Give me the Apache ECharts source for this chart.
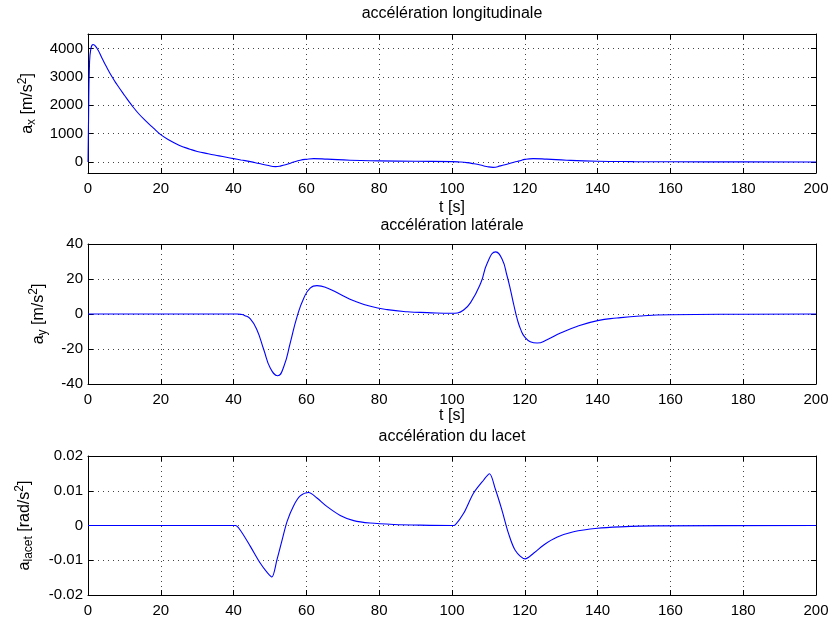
<!DOCTYPE html>
<html>
<head>
<meta charset="utf-8">
<script src="https://cdn.jsdelivr.net/npm/echarts@6/dist/echarts.min.js"></script>
<style>html,body{margin:0;padding:0;background:#fff}#c{width:832px;height:619px}</style>
</head>
<body>
<div id="c"></div>
<script>
// ---- data ----
const xTicks = [0, 20, 40, 60, 80, 100, 120, 140, 160, 180, 200];
const axTickLabels = [0, 1000, 2000, 3000, 4000];

const tAx = [0, 0.15, 0.4, 0.8, 1.4, 2.5, 4, 5, 6.6, 8, 10, 12, 14, 16, 18, 19.6, 22, 25, 28, 30, 33, 36, 38, 40, 42, 44.6, 47, 49.2, 51.5, 53, 54.7, 56.5, 58.3, 60, 62, 65.7, 72, 80, 90, 100, 102, 104.1, 106, 107.8, 109.5, 111.3, 113.3, 115.1, 117, 118.7, 120, 122.3, 126, 131.5, 140, 150, 160, 180, 200];
const axVals = [0, 1500, 3400, 4000, 4140, 4000, 3620, 3370, 3000, 2720, 2350, 2000, 1690, 1430, 1190, 1000, 790, 590, 450, 370, 290, 215, 165, 117, 70, 12, -55, -115, -165, -140, -82, -5, 60, 95, 117, 100, 60, 38, 23, 12, 0, -25, -65, -110, -160, -190, -140, -80, -10, 40, 90, 117, 100, 60, 25, 12, 6, 2, 0];

const tAy = [0, 41, 42, 43, 44.6, 46.4, 48.3, 50.1, 52.1, 53.8, 55.6, 57.4, 59.3, 61.1, 62.9, 65.7, 69.4, 73, 77.6, 82.2, 87.7, 93.2, 100, 101.5, 103, 105.1, 107.9, 109.7, 112, 113.8, 115.1, 116.1, 117, 118, 119, 120, 121.5, 123.4, 126.1, 129.8, 134.3, 140, 145.3, 151.7, 160, 180, 200];
const ayVals = [0, 0, -0.2, -0.8, -2.8, -9, -20.4, -31, -35.3, -30, -16.2, -1.8, 9.2, 14.9, 16.2, 14.9, 11.1, 7.6, 4.4, 2.5, 1.3, 0.8, 0.4, 0.6, 2, 6.5, 17.7, 29.2, 35.5, 31.1, 22, 13.5, 5, -3.5, -9.5, -13.2, -15.8, -16.6, -14.7, -10.9, -7.1, -3.8, -2.3, -1.1, -0.4, -0.1, 0];

const tLacet = [0, 40.5, 41.8, 44.6, 47.3, 49.2, 50.5, 51.9, 53.3, 54.7, 56.5, 58.3, 60.6, 62.9, 65.6, 69.3, 73, 77.5, 84, 91.3, 100, 100.9, 103.2, 105.9, 108.7, 110.3, 111.9, 113.7, 115.5, 117.4, 120.1, 122.4, 125.2, 128.8, 133.4, 140, 146.2, 155.4, 200];
const lacetVals = [0, 0, -0.0013, -0.006, -0.0108, -0.0135, -0.0148, -0.0099, -0.0043, 0.0012, 0.0057, 0.0085, 0.0095, 0.0079, 0.0055, 0.0029, 0.0014, 0.0007, 0.0003, 0.0001, 0, 0.0002, 0.0035, 0.0093, 0.0131, 0.0149, 0.0105, 0.0045, -0.0022, -0.0072, -0.0096, -0.008, -0.0056, -0.0034, -0.0018, -0.0008, -0.0004, -0.0001, 0];

const titles = ['accélération longitudinale', 'accélération latérale', 'accélération du lacet'];
const xLabel = 't [s]';

// ---- chart ----
const FONT = 'Liberation Sans, Arial, Helvetica, sans-serif';
const grids = [
  {left: 88, top: 34, width: 728, height: 139},
  {left: 88, top: 244, width: 728, height: 140},
  {left: 88, top: 456, width: 728, height: 139}
];
const pairs = (t, v) => t.map((x, i) => [x, v[i]]);

const richName = {
  n: {fontSize: 16, fontFamily: FONT, color: '#000'},
  sub: {fontSize: 12, fontFamily: FONT, color: '#000', padding: [9, 0, 0, 0]},
  sup: {fontSize: 12, fontFamily: FONT, color: '#000', padding: [0, 0, 9, 0]}
};
const splitStyle = {show: true, lineStyle: {color: '#444', type: [1, 4], width: 1}};
const tickStyle = () => ({show: true, inside: true, length: 5, lineStyle: {color: '#000'}});
const lineStyleAx = {show: true, onZero: false, lineStyle: {color: '#000', width: 1}};
const labelStyle = {color: '#000', fontSize: 15, fontFamily: FONT};

const xAxes = [], yAxes = [];
grids.forEach((g, i) => {
  xAxes.push({
    type: 'value', gridIndex: i, min: 0, max: 200, interval: 20, position: 'bottom',
    axisLine: lineStyleAx, axisTick: tickStyle(), splitLine: splitStyle,
    axisLabel: Object.assign({margin: 8, showMinLabel: true, showMaxLabel: true}, labelStyle)
  });
  xAxes.push({
    type: 'value', gridIndex: i, min: 0, max: 200, interval: 20, position: 'top',
    axisLine: lineStyleAx, axisTick: tickStyle(), splitLine: {show: false}, axisLabel: {show: false}
  });
});

const yDefs = [
  {min: -390, max: 4510, custom: axTickLabels, name: '{n|a}{sub|x}{n| [m/s}{sup|2}{n|]}', gap: 50},
  {min: -40, max: 40, interval: 20, name: '{n|a}{sub|y}{n| [m/s}{sup|2}{n|]}', gap: 39},
  {min: -0.02, max: 0.02, interval: 0.01, name: '{n|a}{sub|lacet}{n| [rad/s}{sup|2}{n|]}', gap: 53}
];
yDefs.forEach((d, i) => {
  const left = {
    type: 'value', gridIndex: i, min: d.min, max: d.max, position: 'left',
    name: d.name, nameLocation: 'middle', nameGap: d.gap, nameTextStyle: {rich: richName},
    axisLine: lineStyleAx, axisTick: tickStyle(), splitLine: splitStyle,
    axisLabel: Object.assign({margin: 5, showMinLabel: true, showMaxLabel: true,
      formatter: v => String(+(+v).toFixed(4))}, labelStyle)
  };
  const right = {
    type: 'value', gridIndex: i, min: d.min, max: d.max, position: 'right',
    axisLine: lineStyleAx, axisTick: tickStyle(), splitLine: {show: false}, axisLabel: {show: false}
  };
  if (d.custom) {
    left.axisTick.customValues = d.custom;
    left.axisLabel.customValues = d.custom;
    right.axisTick.customValues = d.custom;
  } else {
    left.interval = d.interval; right.interval = d.interval;
  }
  yAxes.push(left, right);
});

const series = [pairs(tAx, axVals), pairs(tAy, ayVals), pairs(tLacet, lacetVals)].map((data, i) => ({
  type: 'line', xAxisIndex: i * 2, yAxisIndex: i * 2, data: data,
  showSymbol: false, smooth: i === 2 ? 0.3 : 0.5,
  lineStyle: {color: '#0000ff', width: 1.1}, silent: true, animation: false
}));

const graphic = [];
const titleY = [14, 226, 437];
titles.forEach((t, i) => graphic.push({type: 'text', id: 't' + i, silent: true, z: 10,
  style: {text: t, x: 452, y: titleY[i], fill: '#000', font: '16px ' + FONT, textAlign: 'center', textVerticalAlign: 'middle'}}));
[208, 416].forEach((y, i) => graphic.push({type: 'text', id: 'xl' + i, silent: true,
  style: {text: xLabel, x: 452, y: y, fill: '#000', font: '16px ' + FONT, textAlign: 'center', textVerticalAlign: 'middle'}}));

const chart = echarts.init(document.getElementById('c'), null, {renderer: 'canvas'});
chart.setOption({
  animation: false,
  backgroundColor: '#fff',
  grid: grids.map(g => Object.assign({show: false, containLabel: false}, g)),
  xAxis: xAxes, yAxis: yAxes, series: series, graphic: graphic
});
</script>
</body>
</html>
